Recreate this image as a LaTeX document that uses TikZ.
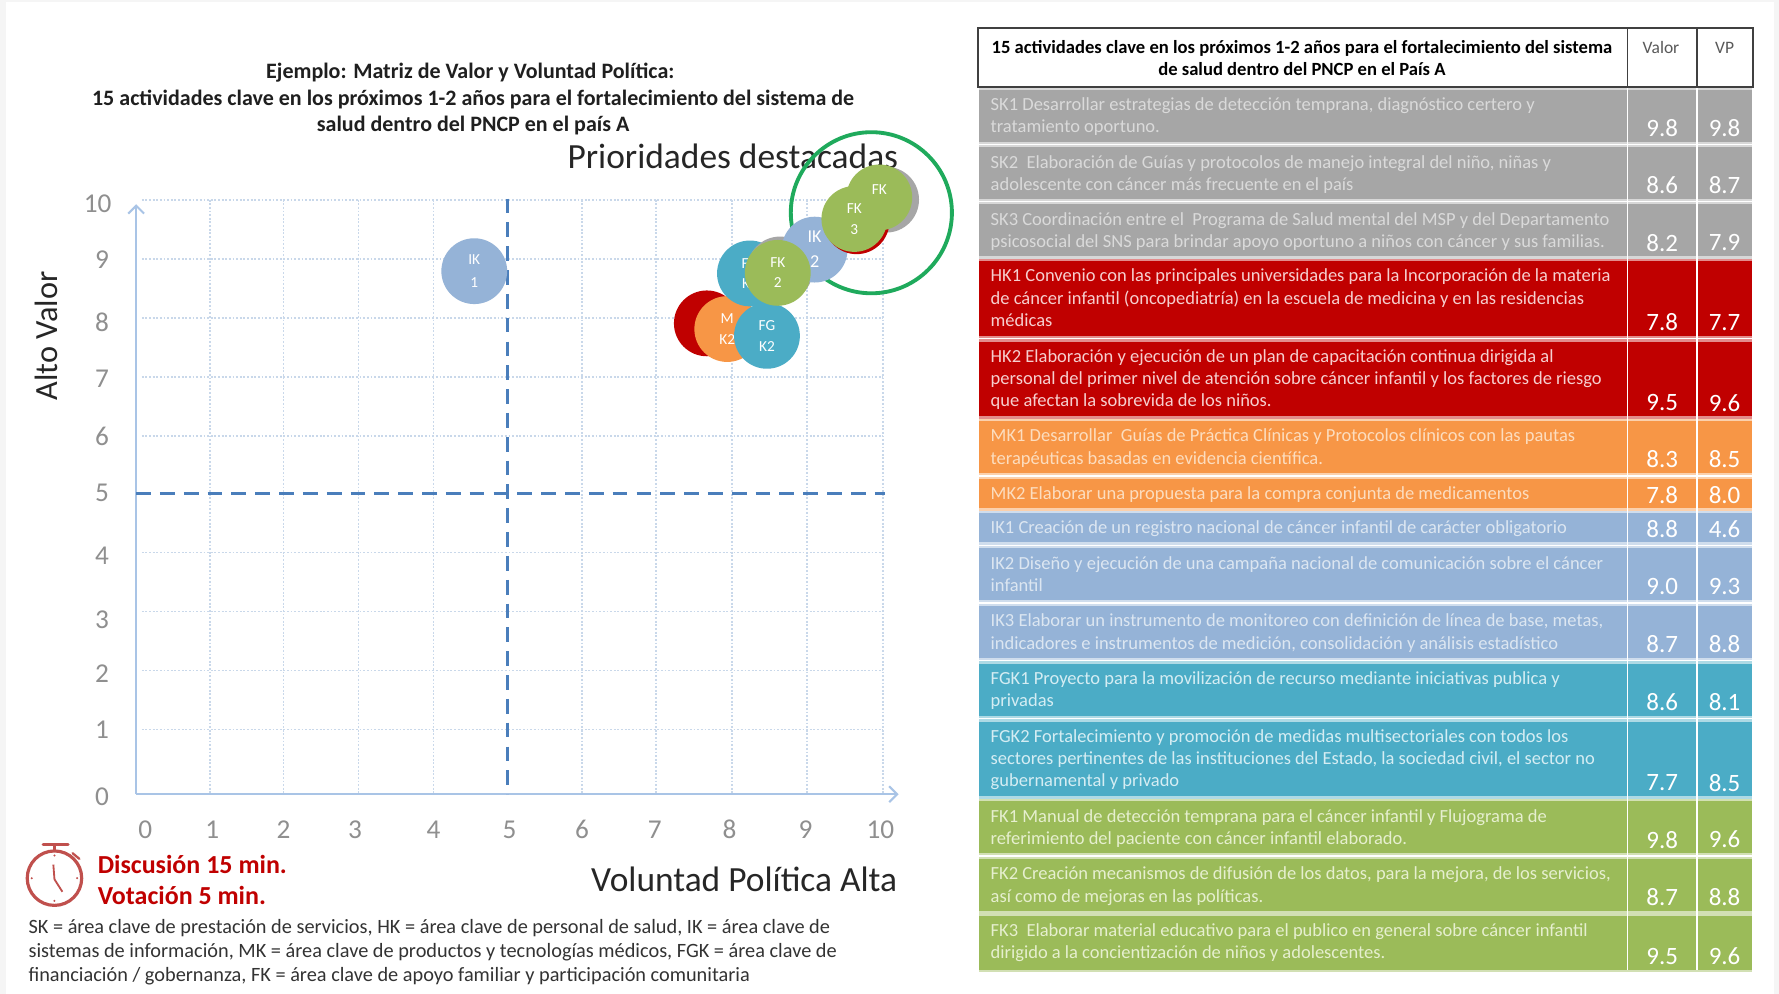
\documentclass[tikz,border=0pt]{standalone}
\usepackage{fontspec}
\usetikzlibrary{arrows.meta}
\setmainfont{Carlito}
\definecolor{cgray}{HTML}{A6A6A6}
\definecolor{cgrayt}{HTML}{DADADA}
\definecolor{cred}{HTML}{C00000}
\definecolor{credt}{HTML}{F6CFCF}
\definecolor{corange}{HTML}{F79646}
\definecolor{coranget}{HTML}{FCDDBF}
\definecolor{cblue}{HTML}{95B3D7}
\definecolor{cbluet}{HTML}{DCE6F1}
\definecolor{cteal}{HTML}{4BACC6}
\definecolor{ctealt}{HTML}{D5EDF3}
\definecolor{cgreen}{HTML}{9BBB59}
\definecolor{cgreent}{HTML}{E6EFCF}
\definecolor{axisblue}{HTML}{A9C4E6}
\definecolor{gridblue}{HTML}{C9D8EA}
\definecolor{dashblue}{HTML}{4A7EBB}
\definecolor{ringgreen}{HTML}{1FAA5C}
\definecolor{numgray}{HTML}{8F8F8F}
\definecolor{clockred}{HTML}{C0504D}
\tikzset{
  gridline/.style={gridblue,line width=1.5pt,dash pattern=on 1.6pt off 1.6pt},
  quadrant/.style={dashblue,line width=2.6pt,dash pattern=on 13pt off 8pt},
  axisline/.style={axisblue,line width=1.8pt,-{Straight Barb[length=7pt,width=14pt]}},
  axisnum/.style={numgray,font=\fontsize{24}{24}\selectfont,inner sep=0},
  bubble/.style={circle,minimum size=#1,inner sep=0,text=white,align=center,
     font=\fontsize{13.5}{18}\selectfont},
  bubble/.default=58pt,
  titletext/.style={align=center,inner sep=0,font=\fontsize{19.4}{23.4}\selectfont\bfseries,text=black!88},
  bigtext/.style={inner sep=0,text=black!85,font=\fontsize{31.2}{32}\selectfont},
  rowtext/.style={anchor=north west,inner sep=0,align=left,font=\fontsize{16.3}{19.55}\selectfont},
  rowval/.style={inner sep=0,text=white,font=\fontsize{22}{22}\selectfont},
  legendtext/.style={anchor=north west,inner sep=0,align=left,text=black!80,font=\fontsize{17.9}{21.4}\selectfont},
  redtext/.style={anchor=west,inner sep=0,text=cred,font=\fontsize{22.9}{23}\selectfont\bfseries},
}
\newcommand{\trow}[8]{% name top bottom fill textcolor lines val vp
  \fill[#4!45] (863,#2-2) rectangle (1544,#3+2);
  \fill[#4] (863,#2) rectangle (1544,#3);
  \node[rowtext,text=#5] (#1-text) at (873,#2+7) {#6};
  \node[rowval] (#1-val) at (1465,#3-12) {#7};
  \node[rowval] (#1-vp) at (1520,#3-12) {#8};
}
\begin{document}
\begin{tikzpicture}[x=1pt,y=-1pt]
\useasboundingbox (0,0) rectangle (1568,876.06);
\fill[black!4] (0,0) rectangle (1568,876.06);
\fill[white] (5,2) rectangle (1564,876.06);

% grid
\foreach \x in {185,250,316,382,513,578,645,711,778}
  \draw[gridline] (\x,176) -- (\x,700);
\foreach \y in {176,228,280,332,384,487,539,591,643}
  \draw[gridline] (125,\y) -- (778,\y);

% titles
\node[titletext] (title) at (417,87.5) {\makebox[0pt]{\hspace*{-5pt}Ejemplo: Matriz de Valor y Voluntad Política:}\\
15 actividades clave en los próximos 1-2 años para el fortalecimiento del sistema de\\
salud dentro del PNCP en el país A};
\node[bigtext,anchor=west] (prio) at (500,138) {Prioridades destacadas};

% ring
\draw[ringgreen,line width=3.4pt] (768,187.5) circle (71);

% axes
\coordinate (orig) at (120,700);
\coordinate (xend) at (792,700);
\coordinate (yend) at (120,180);
\draw[axisline] (orig) -- (xend);
\draw[axisline] (orig) -- (yend);
\draw[quadrant] (447,175) -- (447,700);
\draw[quadrant] (120,435) -- (780,435);

% axis numbers
\foreach \v/\x in {0/128,1/187,2/250,3/313,4/382,5/449,6/513,7/577,8/643,9/710,10/776}
  \node[axisnum] (xn\v) at (\x,731) {\v};
\foreach \v/\y in {0/702,1/643,2/594,3/546,4/490,5/434,6/385,7/334,8/284,9/229}
  \node[axisnum] (yn\v) at (90,\y) {\v};
\node[axisnum] (yn10) at (86,180) {10};

\node[bigtext,rotate=90,font=\fontsize{28.5}{29}\selectfont] (alto) at (41,296) {Alto Valor};
\node[bigtext,anchor=east] (vol) at (791,775) {Voluntad Política Alta};

% bubbles, back to front
\node[bubble,fill=cblue] (ik1) at (418,239) {IK\\[3pt]1};
\node[bubble,fill=cred] (hk1) at (623,285) {};
\node[bubble,fill=corange] (mk1) at (641,290) {M\\K2};
\node[bubble,fill=cteal] (fgk1) at (661,241) {FG\\K1};
\node[bubble,fill=cteal] (fgk2) at (676,296) {FG\\K2};
\node[bubble,fill=cgray] (sk2) at (687.5,237.5) {};
\node[bubble,fill=cblue,font=\fontsize{16}{22}\selectfont] (ik2) at (718,220) {IK\\2};
\node[bubble,fill=cgray] (sk1) at (781,176) {};
\node[bubble,fill=cred] (hk2) at (755,195) {};
\node[bubble,fill=cgreen] (fk1) at (775,174) {};
\node[bubble,fill=cgreen] (fk3) at (753,193) {FK\\3};
\node[bubble,fill=cgreen] (fk2) at (685.5,240.5) {FK\\2};
\node[inner sep=0,text=white,font=\fontsize{13.5}{18}\selectfont] (fk1-label) at (775,167) {FK};

% clock
\draw[clockred,line width=2.8pt] (48,774) circle (24);
\draw[clockred,line width=2.8pt] (48,750) -- (48,744);
\draw[clockred,line width=2.8pt,line cap=round] (38,744) -- (60,744);
\draw[clockred,line width=2pt,line cap=round] (64,752) -- (70,757);
\draw[clockred,line width=1.6pt] (47,762) -- (48,775) -- (55,786);
\fill[clockred] (48,754) circle (1) (48,794) circle (1) (28,774) circle (1) (68,774) circle (1);
\node[redtext] (disc) at (86,762) {Discusión 15 min.};
\node[redtext] (vot) at (86,789) {Votación 5 min.};

% legend
\node[legendtext] (legend) at (25,810) {SK = área clave de prestación de servicios, HK = área clave de personal de salud, IK = área clave de\\
sistemas de información, MK = área clave de productos y tecnologías médicos, FGK = área clave de\\
financiación / gobernanza, FK = área clave de apoyo familiar y participación comunitaria};

% table
\fill[white] (862,25) rectangle (1545,77);
\trow{sk1}{79}{125}{cgray}{cgrayt}{SK1 Desarrollar estrategias de detección temprana, diagnóstico certero y\\tratamiento oportuno.}{9.8}{9.8}
\trow{sk2}{130}{175}{cgray}{cgrayt}{SK2\ \ Elaboración de Guías y protocolos de manejo integral del niño, niñas y\\adolescente con cáncer más frecuente en el país}{8.6}{8.7}
\trow{sk3}{180}{226}{cgray}{cgrayt}{SK3 Coordinación entre el\ \ Programa de Salud mental del MSP y del Departamento\\psicosocial del SNS para brindar apoyo oportuno a niños con cáncer y sus familias.}{8.2}{7.9}
\trow{hk1}{230}{296}{cred}{credt}{HK1 Convenio con las principales universidades para la Incorporación de la materia\\de cáncer infantil (oncopediatría) en la escuela de medicina y en las residencias\\médicas}{7.8}{7.7}
\trow{hk2}{301}{367}{cred}{credt}{HK2 Elaboración y ejecución de un plan de capacitación continua dirigida al\\personal del primer nivel de atención sobre cáncer infantil y los factores de riesgo\\que afectan la sobrevida de los niños.}{9.5}{9.6}
\trow{mk1}{371}{417}{corange}{coranget}{MK1 Desarrollar\ \ Guías de Práctica Clínicas y Protocolos clínicos con las pautas\\terapéuticas basadas en evidencia científica.}{8.3}{8.5}
\trow{mk2}{422}{448}{corange}{coranget}{MK2 Elaborar una propuesta para la compra conjunta de medicamentos}{7.8}{8.0}
\trow{ik1r}{452}{478}{cblue}{cbluet}{IK1 Creación de un registro nacional de cáncer infantil de carácter obligatorio}{8.8}{4.6}
\trow{ik2r}{483}{529}{cblue}{cbluet}{IK2 Diseño y ejecución de una campaña nacional de comunicación sobre el cáncer\\infantil}{9.0}{9.3}
\trow{ik3r}{534}{580}{cblue}{cbluet}{IK3 Elaborar un instrumento de monitoreo con definición de línea de base, metas,\\indicadores e instrumentos de medición, consolidación y análisis estadístico}{8.7}{8.8}
\trow{fgk1r}{585}{631}{cteal}{ctealt}{FGK1 Proyecto para la movilización de recurso mediante iniciativas publica y\\privadas}{8.6}{8.1}
\trow{fgk2r}{636}{702}{cteal}{ctealt}{FGK2 Fortalecimiento y promoción de medidas multisectoriales con todos los\\sectores pertinentes de las instituciones del Estado, la sociedad civil, el sector no\\gubernamental y privado}{7.7}{8.5}
\trow{fk1r}{706}{752}{cgreen}{cgreent}{FK1 Manual de detección temprana para el cáncer infantil y Flujograma de\\referimiento del paciente con cáncer infantil elaborado.}{9.8}{9.6}
\trow{fk2r}{757}{803}{cgreen}{cgreent}{FK2 Creación mecanismos de difusión de los datos, para la mejora, de los servicios,\\así como de mejoras en las políticas.}{8.7}{8.8}
\trow{fk3r}{807}{855}{cgreen}{cgreent}{FK3\ \ Elaborar material educativo para el publico en general sobre cáncer infantil\\dirigido a la concientización de niños y adolescentes.}{9.5}{9.6}
\draw[white,line width=1.4pt] (1434.5,77) -- (1434.5,855) (1495.5,77) -- (1495.5,855);

% header
\draw[black!75,line width=1.8pt] (862,25) rectangle (1545,77);
\draw[black!75,line width=1.4pt] (1434.5,25) -- (1434.5,77) (1495.5,25) -- (1495.5,77);
\node[inner sep=0,align=center,text=black,font=\fontsize{16.4}{19.5}\selectfont\bfseries] (head) at (1147.5,51) {15 actividades clave en los próximos 1-2 años para el fortalecimiento del sistema\\de salud dentro del PNCP en el País A};
\node[inner sep=0,text=black!65,font=\fontsize{15.4}{16}\selectfont] (headval) at (1464,42) {Valor};
\node[inner sep=0,text=black!65,font=\fontsize{15.4}{16}\selectfont] (headvp) at (1520,42) {VP};
\end{tikzpicture}
\end{document}
